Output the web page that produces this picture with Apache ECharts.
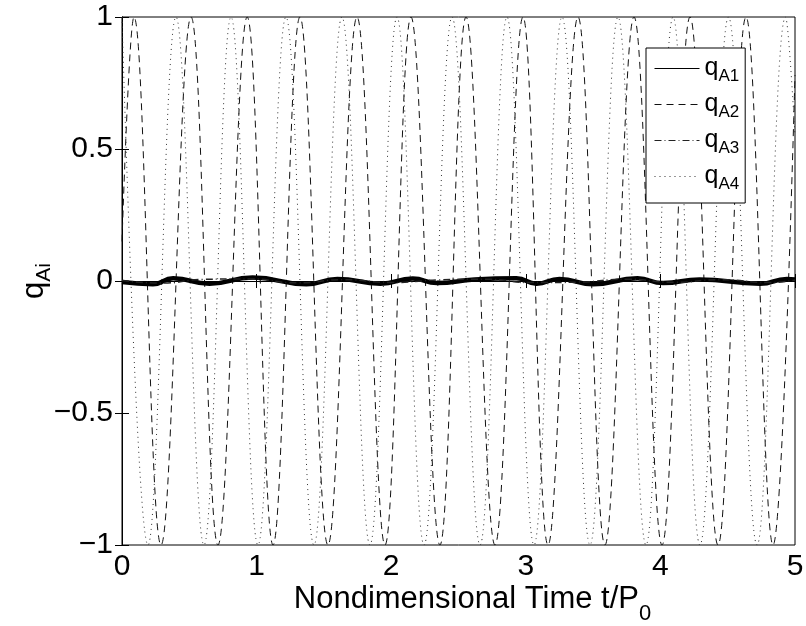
<!DOCTYPE html>
<html lang="en">
<head>
<meta charset="UTF-8">
<title>qAi</title>
<script src="https://cdn.jsdelivr.net/npm/echarts@6/dist/echarts.min.js"></script>
</head>
<body style="margin:0">
<div id="ec" style="width:806px;height:626px"></div>
<script>
// times (t/P0)
var a2Start = [0, 0.15]
var a2PeakT = [0.089, 0.513, 0.93, 1.322, 1.746, 2.147, 2.556, 2.979, 3.388, 3.804, 4.220, 4.636]
var a2TroughT = [0.290, 0.713, 1.122, 1.530, 1.954, 2.362, 2.771, 3.165, 3.588, 4.012, 4.428, 4.837]
var a2End = [5, 0.78]

var a4Start = [0, 1]
var a4PeakT = [0.401, 0.810, 1.218, 1.634, 2.043, 2.452, 2.860, 3.269, 3.685, 4.094, 4.506, 4.930]
var a4TroughT = [0.193, 0.609, 1.010, 1.426, 1.842, 2.244, 2.660, 3.061, 3.477, 3.893, 4.294, 4.718]
var a4End = [5, 0.55]

var a1T = [0, 0.23, 0.38, 0.65, 0.97, 1.37, 1.60, 1.92, 2.16, 2.34, 2.62, 2.93, 3.08, 3.25, 3.50, 3.83, 4.02, 4.29, 4.74, 4.94, 5]
var a1V = [-0.004, -0.012, 0.010, -0.010, 0.013, -0.012, 0.008, -0.010, 0.009, -0.008, 0.006, 0.010, -0.010, 0.008, -0.012, 0.010, -0.008, 0.006, -0.010, 0.008, 0.006]

var a3T = [0, 0.3, 0.6, 0.95, 1.3, 1.65, 2.0, 2.35, 2.7, 3.05, 3.4, 3.75, 4.1, 4.45, 4.8, 5]
var a3V = [0.002, -0.008, 0.006, 0.008, -0.007, 0.005, -0.006, 0.004, 0.007, -0.006, -0.004, 0.007, -0.005, 0.005, -0.006, 0.004]

function wave(start, peaks, troughs, end) {
    var pts = [start]
    peaks.forEach(function(t) { pts.push([t, 1]) })
    troughs.forEach(function(t) { pts.push([t, -1]) })
    pts.push(end)
    pts.sort(function(a, b) { return a[0] - b[0] })
    return pts
}
function pairs(ts, vs) {
    return ts.map(function(t, i) { return [t, vs[i]] })
}

var font = 'Liberation Sans, Arial, Helvetica, sans-serif'
var mychart = echarts.init(document.getElementById('ec'))

var tickStyle = { inside: true, length: 7, lineStyle: { color: '#000' } }

var options = {
    animation: false,
    backgroundColor: '#fff',
    color: ['#000', '#000', '#000', '#000'],
    textStyle: { fontFamily: font, color: '#000' },
    grid: {
        left: 122, right: 11, top: 17, bottom: 81,
        outerBoundsMode: 'none', containLabel: false,
        show: true, borderColor: '#000', borderWidth: 1, backgroundColor: '#fff'
    },
    legend: {
        orient: 'vertical',
        left: 646,
        top: 48,
        padding: [8, 6, 10, 8],
        itemWidth: 45,
        itemHeight: 12,
        itemGap: 7,
        backgroundColor: '#fff',
        borderColor: '#000',
        borderWidth: 1,
        lineStyle: { width: 1 },
        itemStyle: { opacity: 0 },
        formatter: function(n) { return '{q|q}{s|' + n.slice(1) + '}' },
        textStyle: {
            rich: {
                q: { fontSize: 25, fontFamily: font, color: '#000' },
                s: { fontSize: 17, fontFamily: font, color: '#000', padding: [16, 0, 0, 0] }
            }
        },
        data: ['qA1', 'qA2', 'qA3', 'qA4']
    },
    xAxis: [{
        type: 'value',
        min: 0, max: 5, interval: 1,
        name: '{a|Nondimensional Time t/P}{s|0}',
        nameLocation: 'middle',
        nameGap: 28,
        nameMoveOverlap: false,
        nameTextStyle: {
            padding: [0, 0, 0, 28],
            rich: {
                a: { fontSize: 31, fontFamily: font, color: '#000' },
                s: { fontSize: 22, fontFamily: font, color: '#000', padding: [30, 0, 0, 0] }
            }
        },
        axisLine: { lineStyle: { color: '#000' } },
        axisTick: tickStyle,
        axisLabel: { fontSize: 30, color: '#000', margin: 7 },
        splitLine: { show: false }
    }, {
        type: 'value', position: 'top',
        min: 0, max: 5, interval: 1,
        axisLine: { lineStyle: { color: '#000' } },
        axisTick: tickStyle,
        axisLabel: { show: false },
        splitLine: { show: false }
    }],
    yAxis: [{
        type: 'value',
        min: -1, max: 1, interval: 0.5,
        name: '{a|q}{s|Ai}',
        nameLocation: 'middle',
        nameGap: 67,
        nameMoveOverlap: false,
        nameTextStyle: {
            rich: {
                a: { fontSize: 31, fontFamily: font, color: '#000' },
                s: { fontSize: 21, fontFamily: font, color: '#000', padding: [20, 0, 0, 0] }
            }
        },
        axisLine: { lineStyle: { color: '#000' } },
        axisTick: tickStyle,
        axisLabel: {
            fontSize: 30, color: '#000', margin: 9,
            formatter: function(v) { return v < 0 ? '\u2212' + (-v) : String(v) }
        },
        splitLine: { show: false }
    }, {
        type: 'value', position: 'right',
        min: -1, max: 1, interval: 0.5,
        axisLine: { lineStyle: { color: '#000' } },
        axisTick: tickStyle,
        axisLabel: { show: false },
        splitLine: { show: false }
    }],
    series: [{
        name: 'qA2', type: 'line', symbol: 'none', smooth: 0.4,
        lineStyle: { color: '#111', width: 1, type: [7, 5] },
        data: wave(a2Start, a2PeakT, a2TroughT, a2End)
    }, {
        name: 'qA4', type: 'line', symbol: 'none', smooth: 0.4,
        lineStyle: { color: '#333', width: 1, type: [1, 4] },
        data: wave(a4Start, a4PeakT, a4TroughT, a4End)
    }, {
        name: 'qA1', type: 'line', symbol: 'none', smooth: 0.5,
        lineStyle: { color: '#000', width: 4.5 },
        data: pairs(a1T, a1V)
    }, {
        name: 'qA3', type: 'line', symbol: 'none', smooth: 0.5,
        lineStyle: { color: '#222', width: 1.5, type: [7, 3, 1, 3] },
        data: pairs(a3T, a3V)
    }]
}
mychart.setOption(options)
</script>
</body>
</html>
